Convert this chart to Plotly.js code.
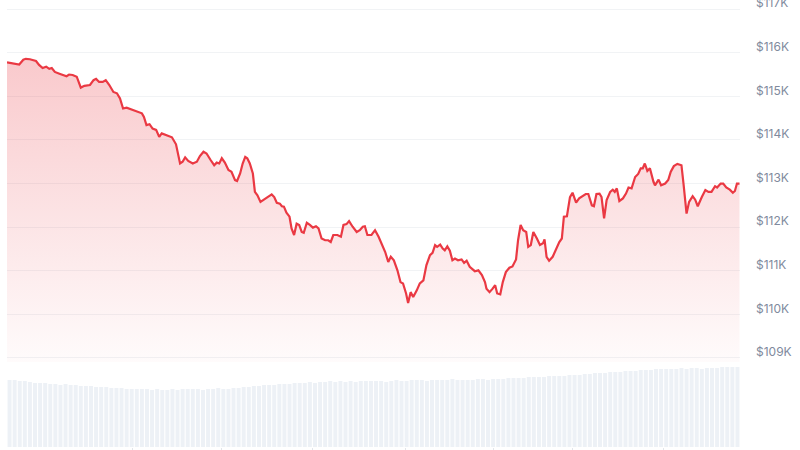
<!DOCTYPE html>
<html>
<head>
<meta charset="utf-8">
<script src="https://cdn.plot.ly/plotly-3.0.1.min.js"></script>
<style>html,body{margin:0;padding:0;background:#fff;}#chart{width:800px;height:450px;}</style>
</head>
<body>
<div id="chart"></div>
<script>
// minutes since start of the 24h window
const timeMin = [0,9,19,24,32,37,45,52,57,63,70,77,83,88,94,103,111,117,122,129,137,145,152,163,170,175,181,188,194,201,209,216,222,228,235,245,255,265,269,274,280,286,293,299,304,314,324,332,340,345,350,356,365,373,379,386,392,400,407,412,417,422,428,435,441,448,452,458,463,468,472,477,483,487,492,498,505,513,520,525,530,536,540,544,549,555,559,564,569,574,579,583,589,595,601,607,612,618,625,631,636,641,649,656,661,667,672,679,687,693,699,703,708,716,723,730,736,743,749,754,760,767,773,778,784,788,793,798,805,811,818,824,831,836,841,845,851,856,860,865,870,875,880,886,893,898,903,909,919,926,933,939,942,948,954,959,963,969,974,980,987,993,1000,1004,1009,1014,1020,1024,1029,1034,1041,1047,1053,1056,1060,1065,1072,1079,1085,1090,1094,1100,1106,1111,1118,1124,1132,1137,1142,1149,1153,1158,1164,1168,1173,1178,1185,1190,1194,1198,1203,1210,1216,1221,1227,1234,1240,1245,1249,1253,1258,1263,1270,1273,1280,1285,1293,1299,1304,1310,1317,1325,1329,1335,1340,1347,1352,1357,1365,1372,1378,1384,1391,1395,1402,1407,1413,1420,1426,1430,1434,1439];
const priceUSD = [115780,115760,115750,115730,115840,115860,115850,115830,115810,115720,115650,115680,115630,115650,115560,115520,115490,115460,115500,115490,115450,115200,115240,115260,115370,115400,115330,115330,115370,115260,115100,115070,114950,114720,114740,114700,114650,114610,114530,114340,114360,114260,114230,114070,114150,114110,114060,113900,113460,113500,113600,113520,113460,113500,113630,113730,113690,113540,113420,113480,113460,113580,113480,113310,113270,113080,113060,113230,113460,113610,113580,113460,113230,112810,112730,112580,112630,112690,112750,112690,112560,112540,112480,112470,112330,112240,111970,111820,112080,112050,111890,111870,112100,112050,111990,112020,111970,111740,111700,111700,111660,111820,111820,111780,112050,112070,112140,112010,111890,111930,112010,112020,111820,111820,111930,111780,111630,111430,111200,111320,111240,111010,110740,110710,110480,110260,110510,110400,110550,110710,110780,111130,111360,111410,111590,111550,111600,111510,111470,111560,111460,111240,111280,111240,111260,111180,111230,111090,110990,111010,110900,110740,110590,110510,110590,110670,110480,110460,110740,110970,111070,111100,111260,111700,112050,111930,111890,111550,111590,111890,111740,111590,111630,111720,111320,111230,111320,111510,111660,111740,112240,112250,112690,112790,112560,112660,112710,112760,112760,112500,112480,112760,112770,112690,112200,112620,112810,112860,112810,112890,112600,112660,112770,112910,112890,113150,113220,113350,113350,113460,113290,113350,113040,112960,113090,112960,113000,113080,113270,113400,113450,113420,113000,112310,112580,112710,112630,112480,112690,112850,112810,112810,112940,112910,113000,113000,112910,112860,112790,112830,113000,113000];
// volume bars, one per 10 minutes (relative units)
const volume = [67,67,66,66,65,64,64, 64,63,63,62,63,62,62, 61,61,61,60,60,60, 59,59,59,58,58,58,58, 58,57,58,57,57,58, 57,58,58,58,58,57,58, 58,59,58,58,59,59, 60,60,61,61,62,62,62, 63,63,63,64,64,64, 65,64,65,65,66,65,66, 65,66,65,66,66,66, 66,66,65,66,67,66,66, 67,67,67,66,67,67, 67,67,68,67,67,67,67, 68,68,67,68,68,68, 69,69,69,69,70,70,70, 70,71,71,71,71,72, 72,72,73,73,74,74,74, 75,75,75,76,76,76, 77,77,77,78,78,78,78, 78,79,78,79,79,78, 79,79,79,80,80,80,80];
const priceTicks = [109000,110000,111000,112000,113000,114000,115000,116000,117000];
const priceTickText = ['$109K','$110K','$111K','$112K','$113K','$114K','$115K','$116K','$117K'];
const xTickMin = [247,422,601,782,955,1110,1289];

const traces = [
  {
    type: 'bar', x0: 5, dx: 10, y: volume, xaxis: 'x', yaxis: 'y2',
    marker: {color: '#edf1f6', line: {width: 0}}, hoverinfo: 'skip', showlegend: false
  },
  {
    type: 'scatter', mode: 'lines', x: timeMin, y: priceUSD, xaxis: 'x', yaxis: 'y',
    line: {color: '#ea3943', width: 2.2, shape: 'linear'},
    fill: 'tozeroy',
    fillgradient: {
      type: 'vertical', start: 108908, stop: 115860,
      colorscale: [[0, 'rgba(234,57,67,0.02)'], [1, 'rgba(234,57,67,0.27)']]
    },
    showlegend: false
  }
];

const layout = {
  width: 800, height: 450,
  margin: {l: 7, r: 60, t: 0, b: 0, pad: 0},
  paper_bgcolor: '#ffffff', plot_bgcolor: 'rgba(0,0,0,0)',
  font: {family: 'Inter, "Open Sans", sans-serif', size: 12, color: '#808a9d'},
  showlegend: false,
  bargap: 0.22,
  xaxis: {
    range: [0, 1440], anchor: 'y2', showgrid: false, zeroline: false, showline: false,
    showticklabels: false, ticks: 'outside', ticklen: 3, tickcolor: '#e3e6ea', tickwidth: 1,
    tickmode: 'array', tickvals: xTickMin
  },
  yaxis: {
    domain: [0.19556, 1], range: [108908, 117209], side: 'right',
    tickmode: 'array', tickvals: priceTicks, ticktext: priceTickText,
    showgrid: true, gridcolor: '#f1f3f5', gridwidth: 1, zeroline: false, showline: false,
    ticks: '', ticklabelstandoff: 15, ticklabelshift: -6, ticklabeloverflow: 'allow',
    tickfont: {family: 'Inter, "Open Sans", sans-serif', size: 12, color: '#808a9d'}
  },
  yaxis2: {
    domain: [0.00667, 0.19556], range: [0, 85], showgrid: false, zeroline: false,
    showline: false, showticklabels: false, ticks: ''
  }
};

Plotly.newPlot('chart', traces, layout, {displayModeBar: false, staticPlot: true});
</script>
</body>
</html>
